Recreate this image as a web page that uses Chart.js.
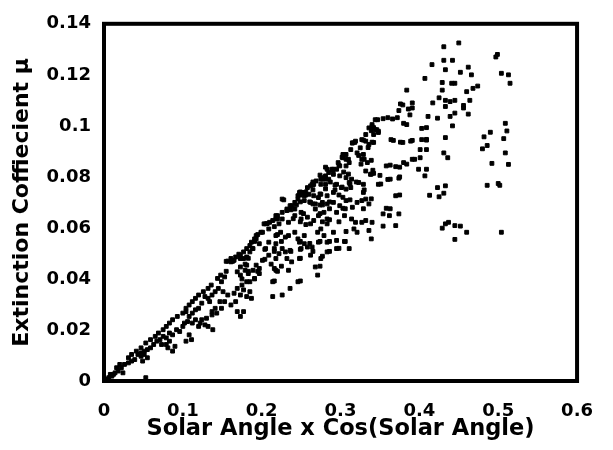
<!DOCTYPE html>
<html>
<head>
<meta charset="utf-8">
<script src="https://cdn.jsdelivr.net/npm/chart.js@4.4.0/dist/chart.umd.min.js"></script>
<style>
  html, body { margin: 0; padding: 0; background: #fff; }
  #wrap { width: 613px; height: 450px; }
</style>
</head>
<body>
<div id="wrap"><canvas id="chart" width="613" height="450"></canvas></div>
<script>
// axis ticks
const xTickLabels = ["0", "0.1", "0.2", "0.3", "0.4", "0.5", "0.6"];
const yTickLabels = ["0", "0.02", "0.04", "0.06", "0.08", "0.1", "0.12", "0.14"];

// points: [solar angle x cos, extinction coefficient]
const upperRight = [
  [0.450,0.1325],[0.431,0.131],[0.499,0.128],[0.497,0.127],[0.416,0.124],[0.431,0.1257],[0.442,0.1257],
  [0.433,0.122],[0.462,0.123],[0.452,0.121],[0.466,0.120],[0.504,0.1206],[0.513,0.120],[0.407,0.1186],
  [0.429,0.117],[0.441,0.1167],[0.445,0.1167],[0.515,0.1167],[0.384,0.114],[0.429,0.114],[0.460,0.1134],
  [0.468,0.1147],[0.474,0.1156],[0.417,0.109],[0.425,0.111],[0.433,0.110],[0.439,0.1095],[0.445,0.110],
  [0.464,0.110],[0.376,0.1086],[0.391,0.109],[0.374,0.106],[0.386,0.1066],[0.433,0.1076],[0.456,0.108],
  [0.456,0.107],[0.445,0.105],[0.462,0.1046],[0.344,0.1024],[0.354,0.1028],[0.366,0.1027],[0.380,0.101],
  [0.411,0.1037],[0.423,0.103],[0.439,0.1037],[0.509,0.101],[0.511,0.098],[0.507,0.095],[0.509,0.0894],
  [0.513,0.0849],[0.490,0.0975],[0.482,0.0957],[0.480,0.091],[0.486,0.0923],[0.442,0.100],[0.403,0.099],
  [0.340,0.0998],[0.344,0.0985],[0.348,0.0979],[0.342,0.0966],[0.364,0.0946],[0.376,0.0936],[0.389,0.094],
  [0.403,0.0946],[0.409,0.0944],[0.433,0.0954],[0.401,0.0907],[0.409,0.0907],[0.431,0.0894],[0.436,0.0875],
  [0.401,0.0875],[0.391,0.0869],[0.380,0.0856],[0.370,0.084],[0.358,0.0843],[0.492,0.0853],[0.399,0.083],
  [0.407,0.0804],[0.374,0.0795],[0.360,0.079],[0.350,0.0806],[0.338,0.081],[0.342,0.0814],[0.332,0.0823],
  [0.486,0.0767],[0.500,0.0774],[0.502,0.0767],[0.423,0.0758],[0.433,0.0765],[0.413,0.0728],[0.425,0.0722],
  [0.431,0.0736],[0.370,0.0726],[0.348,0.0771],[0.307,0.0752],[0.313,0.0758],[0.329,0.0739],[0.332,0.0713],
  [0.336,0.0694],[0.327,0.0707],[0.307,0.0707],[0.358,0.0677],[0.354,0.0655],[0.362,0.0648],[0.374,0.0655],
  [0.303,0.0677],[0.305,0.0648],[0.314,0.0635],[0.319,0.0622],[0.327,0.0622],[0.332,0.0629],[0.340,0.0622],
  [0.354,0.0607],[0.370,0.0609],[0.307,0.0586],[0.317,0.0596],[0.321,0.0583],[0.336,0.059],[0.433,0.0616],
  [0.437,0.0622],[0.429,0.0599],[0.445,0.0609],[0.452,0.0607],[0.460,0.0583],[0.445,0.0555],[0.504,0.0583],
  [0.339,0.0557],[0.295,0.0551],[0.305,0.0547],[0.311,0.0519]
];

const middle = [
  [0.329,0.0944],[0.332,0.094],[0.336,0.0927],[0.340,0.0936],[0.315,0.0933],[0.325,0.0914],[0.329,0.0888],
  [0.321,0.0894],[0.327,0.0869],[0.334,0.0856],[0.303,0.0888],[0.307,0.0869],[0.299,0.0843],[0.307,0.0843],
  [0.311,0.0856],[0.295,0.083],[0.289,0.083],[0.283,0.083],[0.281,0.0804],[0.291,0.081],[0.285,0.0791],
  [0.281,0.0771],[0.275,0.0771],[0.266,0.0771],[0.262,0.0765],[0.299,0.0804],[0.307,0.0797],[0.311,0.0778],
  [0.295,0.0771],[0.301,0.0758],[0.291,0.0739],[0.283,0.0726],[0.275,0.0732],[0.248,0.0739],[0.254,0.0726],
  [0.260,0.0732],[0.266,0.0726],[0.272,0.0719],[0.246,0.0713],[0.254,0.0707],[0.262,0.070],[0.268,0.0694],
  [0.277,0.070],[0.283,0.0694],[0.226,0.0713],[0.238,0.0687],[0.232,0.0668],[0.242,0.0674],[0.250,0.0661],
  [0.242,0.0648],[0.250,0.0635],[0.258,0.0642],[0.266,0.0629],[0.268,0.0674],[0.272,0.0648],[0.279,0.0661],
  [0.283,0.0635],[0.283,0.0616],[0.262,0.0616],[0.275,0.0596],[0.271,0.0583],[0.279,0.057],[0.291,0.0583],
  [0.218,0.0648],[0.226,0.0635],[0.234,0.0622],[0.222,0.0616],[0.214,0.0629],[0.205,0.0616],[0.224,0.0583],
  [0.230,0.0564],[0.218,0.057],[0.209,0.0596],[0.201,0.0583],[0.209,0.0544],[0.218,0.0538],[0.193,0.0557],
  [0.197,0.0538],[0.189,0.0519],[0.185,0.0506],[0.181,0.0486],[0.177,0.048],[0.173,0.048],[0.165,0.0473],
  [0.161,0.0467],[0.157,0.047],[0.205,0.0519],[0.216,0.0519],[0.209,0.0493],[0.218,0.048],[0.222,0.0499],
  [0.230,0.0506],[0.236,0.0512],[0.248,0.0544],[0.254,0.0538],[0.258,0.0525],[0.250,0.0519],[0.264,0.0525],
  [0.272,0.0544],[0.283,0.0544],[0.262,0.0493],[0.248,0.048],[0.275,0.048],[0.283,0.0506],[0.295,0.0519],
  [0.268,0.0447],[0.271,0.0415],[0.201,0.0473],[0.193,0.0454],[0.181,0.0454],[0.173,0.0447],[0.179,0.0434],
  [0.183,0.0421],[0.189,0.0434],[0.197,0.0441],[0.216,0.0441],[0.218,0.0434],[0.214,0.0389],[0.234,0.0434],
  [0.246,0.0389],[0.236,0.0363],[0.226,0.0337],[0.214,0.0331],[0.226,0.0519],[0.232,0.048],[0.238,0.0467],
  [0.234,0.057],[0.242,0.0583],[0.246,0.0557],[0.254,0.057],[0.291,0.070],[0.299,0.0687],[0.295,0.0661],
  [0.303,0.072],[0.323,0.0778],[0.329,0.0771],[0.315,0.0681],[0.321,0.070]
];

const upperEdge = [
  [0.155,0.0469],[0.161,0.048],[0.167,0.0486],[0.173,0.0493],[0.177,0.0506],[0.181,0.0519],[0.185,0.0531],
  [0.187,0.0544],[0.191,0.0557],[0.193,0.057],[0.199,0.0583],[0.203,0.0616],[0.210,0.0622],[0.218,0.0635],
  [0.220,0.0648],[0.226,0.0661],[0.232,0.0674],[0.236,0.0687],[0.242,0.070],[0.246,0.0726],[0.252,0.0739],
  [0.258,0.0758],[0.264,0.0771],[0.269,0.0784],[0.275,0.0791],[0.279,0.0797],[0.285,0.0817],[0.291,0.083],
  [0.297,0.0856],[0.303,0.0875],[0.307,0.0888],[0.313,0.0907],[0.315,0.0933],[0.319,0.094],[0.327,0.0946],
  [0.332,0.0966],[0.336,0.0992],[0.340,0.1005],[0.346,0.0985]
];

const denseMid = [
  [0.277,0.0791],[0.293,0.0768],[0.265,0.0768],[0.281,0.0753],[0.249,0.0729],[0.256,0.0741],[0.298,0.0729],
  [0.228,0.071],[0.244,0.069],[0.265,0.0694],[0.277,0.069],[0.286,0.0675],[0.237,0.0671],[0.253,0.0656],
  [0.274,0.0656],[0.240,0.0636],[0.249,0.0624],[0.286,0.0632],[0.220,0.0636],[0.207,0.0617],[0.216,0.0605],
  [0.256,0.0613],[0.277,0.0624],[0.298,0.0624],[0.195,0.0574],[0.220,0.0574],[0.225,0.0547],[0.191,0.0547],
  [0.249,0.0547],[0.261,0.0539],[0.274,0.0547],[0.286,0.0547],[0.306,0.0547],[0.188,0.052],[0.204,0.0516],
  [0.216,0.0508],[0.237,0.0508],[0.249,0.0516],[0.265,0.0508],[0.286,0.0508],[0.298,0.052],[0.171,0.0497],
  [0.183,0.0481],[0.204,0.0477],[0.249,0.0481],[0.277,0.0489],[0.163,0.0469],[0.179,0.0458],[0.212,0.0458],
  [0.225,0.045],[0.274,0.045],[0.155,0.043],[0.183,0.043],[0.195,0.043],[0.220,0.043],[0.175,0.040],
  [0.191,0.040],[0.216,0.0392],[0.249,0.0392]
];

const denseUpper = [
  [0.379,0.1082],[0.391,0.107],[0.388,0.1043],[0.347,0.1024],[0.360,0.1032],[0.372,0.1032],[0.342,0.0993],
  [0.348,0.0974],[0.339,0.0981],[0.384,0.1005],[0.409,0.0993],[0.318,0.0935],[0.335,0.0915],[0.342,0.0935],
  [0.367,0.0943],[0.379,0.0935],[0.391,0.0943],[0.409,0.0947],[0.306,0.0888],[0.302,0.0877],[0.310,0.0869],
  [0.323,0.0884],[0.330,0.0869],[0.326,0.085],[0.339,0.0865],[0.341,0.0826],[0.363,0.0846],[0.384,0.085],
  [0.394,0.0869],[0.375,0.0838],[0.409,0.083],[0.281,0.0838],[0.290,0.0826],[0.298,0.0846],[0.304,0.0819],
  [0.274,0.0807],[0.281,0.0791],[0.287,0.078],[0.265,0.078],[0.310,0.0811],[0.314,0.0791],[0.320,0.078],
  [0.339,0.0811],[0.351,0.0772],[0.363,0.0791],[0.375,0.080],[0.249,0.0741],[0.256,0.0729],[0.265,0.0749],
  [0.274,0.0733],[0.293,0.0749],[0.302,0.076],[0.312,0.0772],[0.330,0.0749],[0.339,0.0714],[0.249,0.0702],
  [0.261,0.0702],[0.274,0.069],[0.286,0.0702],[0.312,0.071],[0.375,0.0729],[0.306,0.0675],[0.329,0.0675],
  [0.363,0.0675]
];

const lowerLeft = [
  [0.197,0.0421],[0.191,0.0402],[0.185,0.0389],[0.181,0.0389],[0.173,0.0415],[0.169,0.0428],[0.175,0.0376],
  [0.169,0.0363],[0.177,0.0357],[0.185,0.035],[0.181,0.0331],[0.187,0.0324],[0.173,0.0337],[0.165,0.0344],
  [0.167,0.0311],[0.161,0.0298],[0.169,0.0272],[0.177,0.0272],[0.173,0.0253],[0.153,0.0408],[0.149,0.0389],
  [0.145,0.0363],[0.141,0.035],[0.137,0.0337],[0.132,0.0324],[0.128,0.0331],[0.134,0.0311],[0.124,0.0305],
  [0.120,0.0285],[0.116,0.0279],[0.151,0.035],[0.157,0.0337],[0.147,0.0311],[0.153,0.0311],[0.149,0.0285],
  [0.141,0.0285],[0.137,0.0272],[0.143,0.0266],[0.137,0.0259],[0.130,0.0246],[0.124,0.024],[0.128,0.022],
  [0.132,0.0214],[0.138,0.0201],[0.122,0.0227],[0.116,0.024],[0.112,0.0227],[0.120,0.0214],[0.108,0.0253],
  [0.106,0.0233],[0.102,0.0227],[0.104,0.0272],[0.112,0.0266],[0.100,0.0214],[0.092,0.0201],[0.096,0.0194],
  [0.087,0.0181],[0.083,0.0188],[0.079,0.0169],[0.075,0.0175],[0.071,0.0162],[0.067,0.0156],[0.073,0.0143],
  [0.063,0.0143],[0.059,0.013],[0.055,0.0123],[0.051,0.0117],[0.047,0.011],[0.043,0.0104],[0.083,0.0156],
  [0.079,0.0143],[0.090,0.0136],[0.087,0.0117],[0.081,0.013],[0.108,0.0181],[0.104,0.0156],[0.111,0.0162],
  [0.039,0.0084],[0.035,0.0078],[0.031,0.0071],[0.026,0.0065],[0.022,0.0052],[0.018,0.0039],[0.014,0.0032],
  [0.010,0.0019],[0.006,0.0013],[0.004,0.0006],[0.020,0.0065],[0.016,0.0052],[0.024,0.0032],[0.012,0.0026],
  [0.008,0.0026],[0.053,0.0013],[0.047,0.0097],[0.051,0.0104],[0.055,0.0091],[0.049,0.0078],
  [0.148,0.0415],[0.144,0.0402],[0.136,0.0376],[0.132,0.0363],[0.126,0.035],[0.120,0.0337],[0.116,0.0324],
  [0.112,0.0311],[0.108,0.0298],[0.104,0.0285],[0.100,0.0266],[0.093,0.0253],[0.087,0.024],[0.083,0.0227],
  [0.079,0.0214],[0.075,0.0201],[0.069,0.0188],[0.065,0.0175],[0.059,0.0162],[0.053,0.0149],[0.047,0.013],
  [0.041,0.0117],[0.035,0.0104],[0.031,0.0091]
];

const allPoints = [...upperRight, ...middle, ...upperEdge, ...denseMid, ...denseUpper, ...lowerLeft]
  .map(p => ({ x: p[0], y: p[1] }));

// plot frame (all four sides)
const frame = {
  id: "frame",
  afterDraw(chart) {
    const a = chart.chartArea;
    const ctx = chart.ctx;
    ctx.save();
    ctx.strokeStyle = "#000";
    ctx.lineWidth = 4;
    ctx.strokeRect(a.left, a.top, a.right - a.left, a.bottom - a.top);
    ctx.restore();
  }
};

const font = "'DejaVu Sans', Arial, sans-serif";

new Chart(document.getElementById("chart"), {
  type: "scatter",
  data: {
    datasets: [{
      data: allPoints,
      pointStyle: "rect",
      pointRadius: 2.7,
      backgroundColor: "#000",
      borderColor: "#000",
      borderWidth: 1
    }]
  },
  options: {
    responsive: false,
    animation: false,
    layout: { padding: { top: 20, right: 20, left: 0, bottom: 0 } },
    plugins: { legend: { display: false }, tooltip: { enabled: false } },
    scales: {
      x: {
        type: "linear",
        min: 0, max: 0.6,
        grid: { display: false, drawTicks: false },
        border: { display: false },
        ticks: {
          stepSize: 0.1,
          padding: 20,
          color: "#000",
          font: { family: font, size: 18, weight: "bold" },
          callback: (v, i) => xTickLabels[i]
        },
        title: {
          display: true,
          text: "Solar Angle x Cos(Solar Angle)",
          color: "#000",
          font: { family: font, size: 22.5, weight: "bold" },
          padding: { top: 0, bottom: 7 }
        },
        afterFit: s => { s.height = 69; }
      },
      y: {
        type: "linear",
        min: 0, max: 0.14,
        grid: { display: false, drawTicks: false },
        border: { display: false },
        ticks: {
          stepSize: 0.02,
          padding: 13,
          color: "#000",
          font: { family: font, size: 18, weight: "bold" },
          callback: (v, i) => yTickLabels[i]
        },
        title: {
          display: true,
          text: "Extinction Coffiecient μ",
          color: "#000",
          font: { family: font, size: 22, weight: "bold" },
          padding: { top: 9, bottom: 0 }
        },
        afterFit: s => { s.width = 104; }
      }
    }
  },
  plugins: [frame]
});
</script>
</body>
</html>
